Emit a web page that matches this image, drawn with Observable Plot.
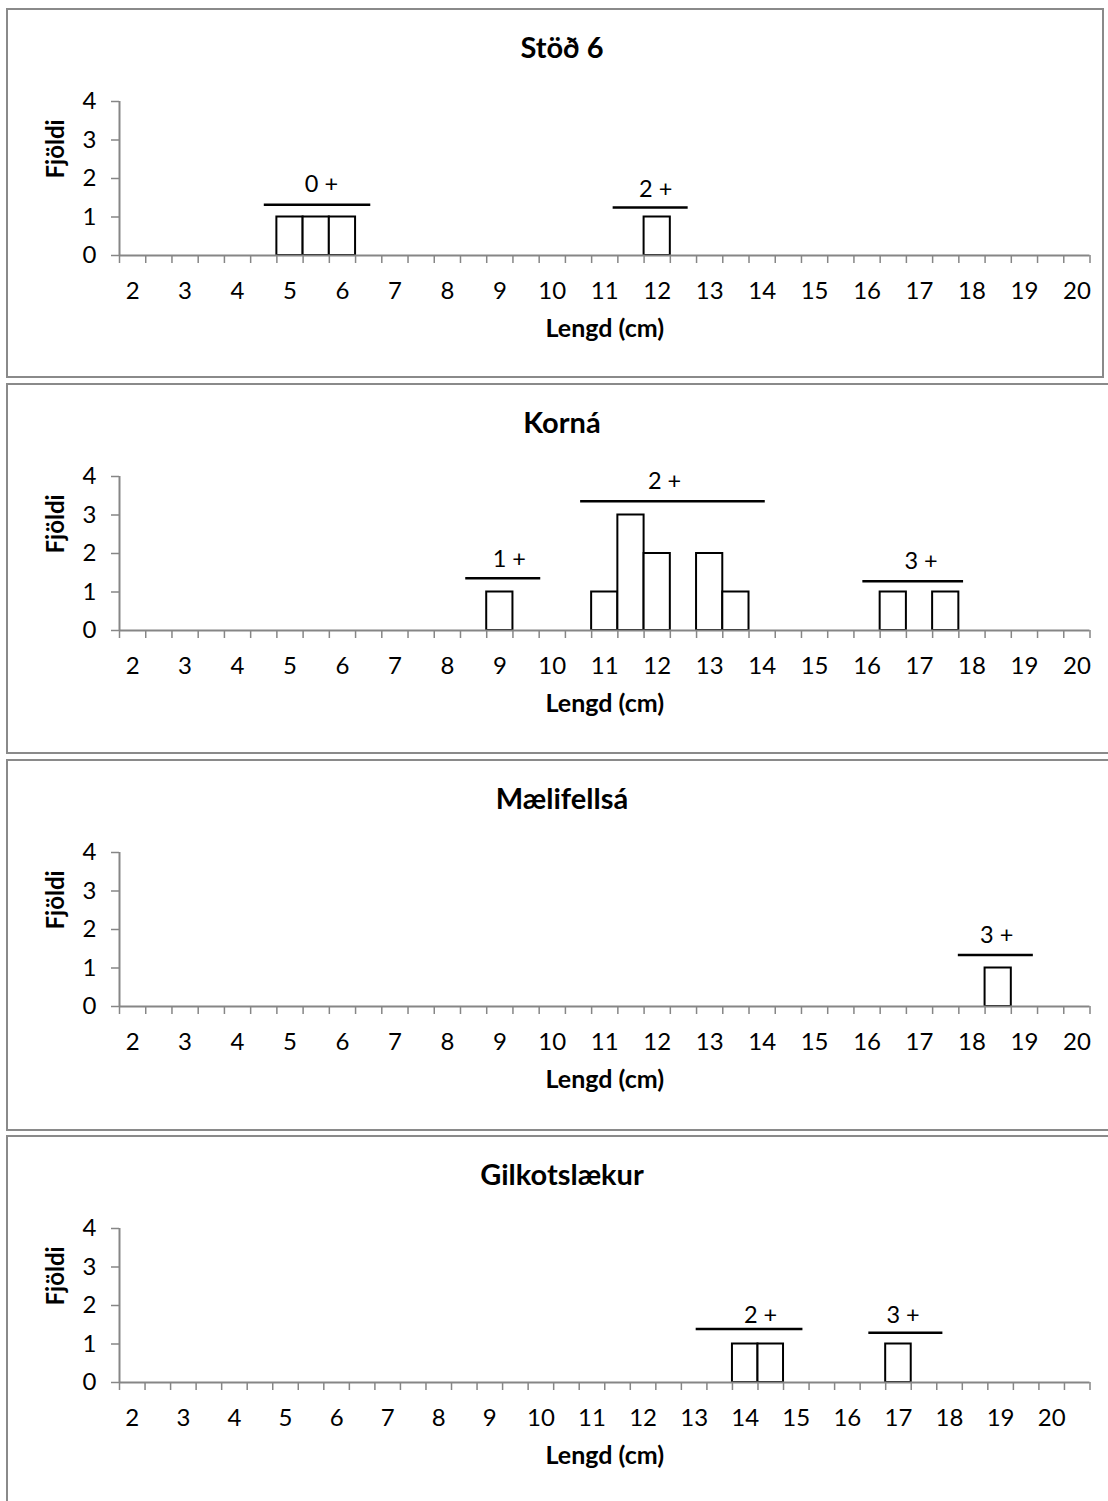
<!DOCTYPE html>
<html><head><meta charset="utf-8">
<script src="https://cdn.jsdelivr.net/npm/d3@7"></script>
<script src="https://cdn.jsdelivr.net/npm/@observablehq/plot@0.6"></script>
<style>
html,body{margin:0;padding:0;background:#fff;overflow:hidden;}
#page{position:relative;width:1108px;height:1501px;overflow:hidden;font-family:Lato, sans-serif;color:#000;}
.box{position:absolute;border:2px solid #8a8a8a;box-sizing:border-box;}
.title{position:absolute;left:262px;width:600px;text-align:center;font-weight:bold;font-size:29px;line-height:29px;color:#000;font-family:Lato, sans-serif;}
.chart{position:absolute;left:0;}
</style></head><body><div id="page"></div>
<script>
// Length bins (cm), half-cm categories
const lengths = [2,2.5,3,3.5,4,4.5,5,5.5,6,6.5,7,7.5,8,8.5,9,9.5,10,10.5,11,11.5,12,12.5,13,13.5,14,14.5,15,15.5,16,16.5,17,17.5,18,18.5,19,19.5,20,20.5];
const tickLabels = [2,3,4,5,6,7,8,9,10,11,12,13,14,15,16,17,18,19,20];
const yTicks = [0,1,2,3,4];

// Counts (Fjöldi) per length bin
const stod6Counts      = [0,0,0,0,0,0,1,1,1,0, 0,0,0,0,0,0,0,0,0,0, 1,0,0,0,0,0,0,0,0,0, 0,0,0,0,0,0,0,0];
const kornaCounts      = [0,0,0,0,0,0,0,0,0,0, 0,0,0,0,1,0,0,0,1,3, 2,0,2,1,0,0,0,0,0,1, 0,1,0,0,0,0,0,0];
const maelifellsaCounts= [0,0,0,0,0,0,0,0,0,0, 0,0,0,0,0,0,0,0,0,0, 0,0,0,0,0,0,0,0,0,0, 0,0,0,1,0,0,0,0];
const gilkotsCounts    = [0,0,0,0,0,0,0,0,0,0, 0,0,0,0,0,0,0,0,0,0, 0,0,0,0,1,1,0,0,0,0, 1,0,0,0,0,0,0,0];

// Age-group annotations: line from x1 to x2 at height y, label at (tx, ty)
const stod6Groups = [
  {label:"0 +", x1:4.51, x2:6.54, y:1.32, tx:5.6, ty:1.64},
  {label:"2 +", x1:11.16, x2:12.59, y:1.25, tx:11.97, ty:1.53}
];
const kornaGroups = [
  {label:"1 +", x1:8.35, x2:9.78, y:1.36, tx:9.18, ty:1.64},
  {label:"2 +", x1:10.54, x2:14.06, y:3.36, tx:12.14, ty:3.68},
  {label:"3 +", x1:15.92, x2:17.84, y:1.28, tx:17.03, ty:1.6}
];
const maelifellsaGroups = [
  {label:"3 +", x1:17.74, x2:19.17, y:1.34, tx:18.47, ty:1.66}
];
const gilkotsGroups = [
  {label:"2 +", x1:13.04, x2:15.13, y:1.39, tx:14.3, ty:1.55},
  {label:"3 +", x1:16.42, x2:17.87, y:1.29, tx:17.09, ty:1.55}
];

const panels = [
  {title:"Stöð 6", counts:stod6Counts, groups:stod6Groups, nBins:37, top:8, boxW:1098, boxH:370},
  {title:"Korná", counts:kornaCounts, groups:kornaGroups, nBins:37, top:383, boxW:1112, boxH:371},
  {title:"Mælifellsá", counts:maelifellsaCounts, groups:maelifellsaGroups, nBins:37, top:759, boxW:1112, boxH:372},
  {title:"Gilkotslækur", counts:gilkotsCounts, groups:gilkotsGroups, nBins:38, top:1135, boxW:1112, boxH:400}
];

const axisGray = "#868686";
const page = document.getElementById("page");

for (const p of panels) {
  const bins = lengths.slice(0, p.nBins);
  const xDomain = [bins[0] - 0.25, bins[bins.length - 1] + 0.25];
  const bounds = bins.map(b => b - 0.25).concat([xDomain[1]]);
  const data = bins.map((len, i) => ({len, n: p.counts[i]})).filter(d => d.n > 0);

  const box = document.createElement("div");
  box.className = "box";
  Object.assign(box.style, {left:"6px", top:p.top+"px", width:p.boxW+"px", height:p.boxH+"px"});
  page.appendChild(box);

  const t = document.createElement("div");
  t.className = "title";
  t.textContent = p.title;
  t.style.top = (p.top + 24) + "px";
  page.appendChild(t);

  const chart = Plot.plot({
    width:1108, height:310,
    marginLeft:119, marginRight:18.5, marginTop:32, marginBottom:124,
    style:{fontFamily:"Lato, sans-serif", fontSize:"24px", color:"#000", background:"transparent", overflow:"visible"},
    x:{domain:xDomain},
    y:{domain:[0,4]},
    marks:[
      Plot.rectY(data, {x1:d => d.len - 0.25, x2:d => d.len + 0.25, y:"n", fill:"white", stroke:"black", strokeWidth:2}),
      Plot.axisX({ticks:bounds, tickSize:8, tickFormat:() => "", stroke:axisGray, strokeWidth:1.5, label:null}),
      Plot.axisX({ticks:tickLabels, tickSize:0, tickPadding:26, tickFormat:d => String(d), label:null, fontSize:24}),
      Plot.axisY({ticks:yTicks, tickSize:8, tickPadding:15, tickFormat:d => String(d), stroke:axisGray, strokeWidth:1.5, label:null, fontSize:24}),
      Plot.ruleY([0], {stroke:axisGray, strokeWidth:2}),
      Plot.ruleX([xDomain[0]], {y1:0, y2:4, stroke:axisGray, strokeWidth:2}),
      Plot.ruleY(p.groups, {x1:"x1", x2:"x2", y:"y", stroke:"black", strokeWidth:2.5}),
      Plot.text(p.groups, {x:"tx", y:"ty", text:"label", lineAnchor:"bottom", fontSize:23.5}),
      Plot.text(["Lengd (cm)"], {frameAnchor:"bottom", dy:81, lineAnchor:"bottom", fontWeight:"bold", fontSize:25}),
      Plot.text(["Fjöldi"], {frameAnchor:"left", dx:-63, rotate:-90, fontWeight:"bold", fontSize:24})
    ]
  });
  chart.classList.add("chart");
  chart.style.top = (p.top + 61) + "px";
  chart.style.position = "absolute";
  chart.style.left = "0px";
  page.appendChild(chart);
}
</script>
</body></html>
